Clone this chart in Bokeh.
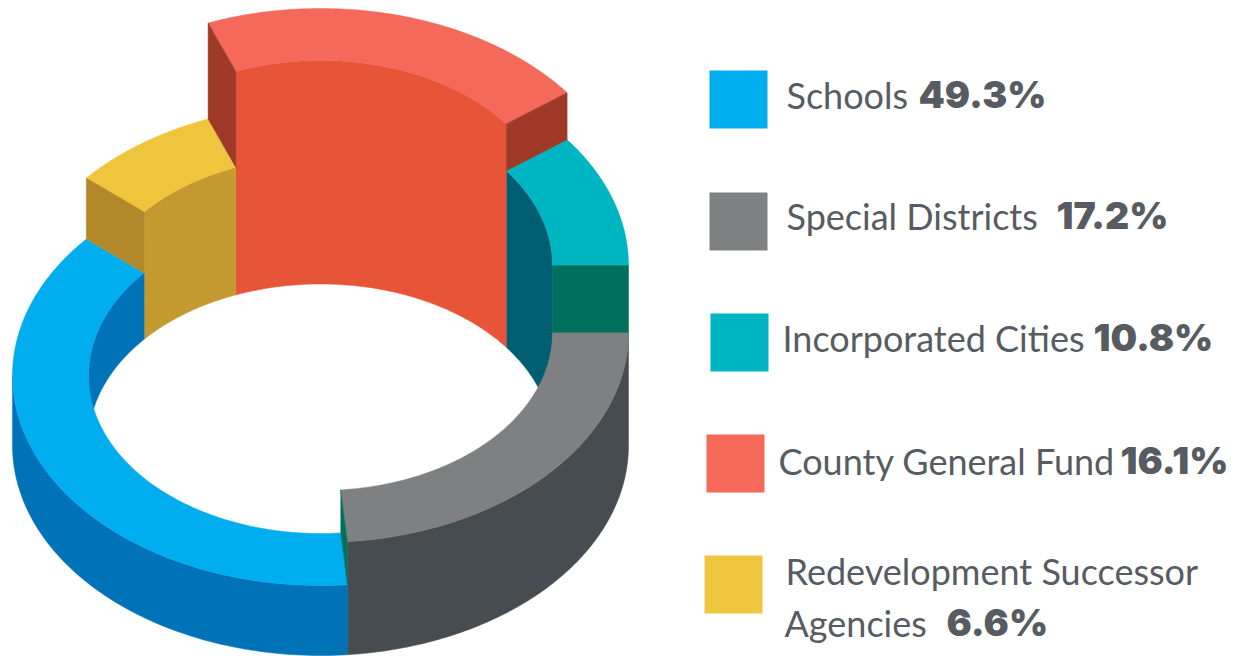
import numpy as np
from bokeh.plotting import figure
from bokeh.models import Range1d
from bokeh.core.properties import value
from bokeh.embed import file_html
from bokeh.resources import INLINE

# --- data ---
categories = ["Special Districts", "Incorporated Cities", "County General Fund",
              "Redevelopment Successor Agencies", "Schools"]
legend_order = ["Schools", "Special Districts", "Incorporated Cities",
                "County General Fund", "Redevelopment Successor Agencies"]
percent = {"Schools": 49.3, "Special Districts": 17.2, "Incorporated Cities": 10.8,
           "County General Fund": 16.1, "Redevelopment Successor Agencies": 6.6}
# the drawing's slices are not proportional to their percentages, so their drawn edges are read off
start_deg = [-85.0, 0.0, 36.8, 111.4, 139.5]
end_deg = [0.0, 36.8, 111.4, 139.5, 275.0]
height_px = [113, 180, 227, 131, 70]

# --- styles ---
top_col = ["#7f8082", "#00b5c2", "#f4695a", "#f0c53e", "#00aeef"]
outer_col = ["#474c50", "#005e73", "#a03a28", "#b3882a", "#0072b8"]
inner_col = ["#474c50", "#005e73", "#e85437", "#c49a30", "#0072b8"]
TXT = "#575c62"

# --- projection layout (image pixels) ---
CX, BASE_Y, RX, RY, IRX, IRY = 321.0, 445.0, 308.0, 210.0, 232.0, 158.0
INNER_BASE = 3.5


def arc(a0, a1, rx, ry, h, n=90):
    t = np.radians(np.linspace(a0, a1, n))
    return CX + rx * np.cos(t), BASE_Y - h - ry * np.sin(t)


def band(a0, a1, rx0, ry0, h0, rx1, ry1, h1):
    x0, y0 = arc(a0, a1, rx0, ry0, h0)
    x1, y1 = arc(a1, a0, rx1, ry1, h1)
    return list(np.r_[x0, x1]), list(np.r_[y0, y1])


p = figure(width=1237, height=656, output_backend="svg", toolbar_location=None,
           x_range=Range1d(1, 1238), y_range=Range1d(656, 0),
           min_border=0, outline_line_color=None)
p.axis.visible = False
p.grid.visible = False
p.background_fill_color = "#ffffff"


def fill(xs, ys, color):
    p.patch(xs, ys, fill_color=color, line_color=color, line_width=0.5)


# inner walls seen on the far side
for a0, a1, h, c in zip(start_deg, end_deg, height_px, inner_col):
    lo, hi = max(a0, 0), min(a1, 180)
    if hi > lo:
        fill(*band(lo, hi, IRX, IRY, h, IRX, IRY, INNER_BASE), c)

# outer walls seen on the near side
for a0, a1, h, c in zip(start_deg, end_deg, height_px, outer_col):
    a0n, a1n = (a0, a1) if a0 < 0 else (max(a0, 180), a1)
    if a0 < 0:
        a1n = min(a1, 0)
    if a1n > a0n:
        fill(*band(a0n, a1n, RX, RY, h, RX, RY, 0), c)

# top surfaces, lowest first
for i in np.argsort(height_px):
    fill(*band(start_deg[i], end_deg[i], RX, RY, height_px[i], IRX, IRY, height_px[i]), top_col[i])

# step faces between neighbouring slices of different height
edges = [(start_deg[0], 0, 4, "#00705c"), (start_deg[1], 1, 0, "#00705c"), (start_deg[2], 2, 1, "#a03a28"),
         (start_deg[3], 2, 3, "#a03a28"), (start_deg[4], 3, 4, "#b3882a")]
for ang, hi_i, lo_i, c in edges:
    t = np.radians(ang)
    ca, sa = np.cos(t), np.sin(t)
    hi, lo = height_px[hi_i], height_px[lo_i]
    fill([CX + IRX * ca, CX + RX * ca, CX + RX * ca, CX + IRX * ca],
         [BASE_Y - hi - IRY * sa, BASE_Y - hi - RY * sa, BASE_Y - lo - RY * sa, BASE_Y - lo - IRY * sa], c)

# legend
swatch_x = [710, 710, 711, 707, 705]
swatch_y = [70, 192, 313, 434, 555]
SW = 58
TEXT_DY = -14
label_x = [787, 787, 783, 779, 786]
base_y = [108, 229, 351, 474, 584]
pct_x = [919, 1057, 1094, 1121, 947]
pct_y = [108, 229, 351, 474, 636]
colmap = dict(zip(categories, top_col))
FONT = value("Lato")
BOLD = value("Inter Black, Inter")
for i, name in enumerate(legend_order):
    p.quad(left=swatch_x[i], right=swatch_x[i] + SW, top=swatch_y[i], bottom=swatch_y[i] + SW,
           fill_color=colmap[name], line_color=None)
    lines = [name] if not name.startswith("Redevelopment") else ["Redevelopment Successor"]
    p.text([label_x[i]], [base_y[i] + TEXT_DY], text=lines, text_font=FONT, text_font_size="36px",
           text_color=TXT, text_baseline="alphabetic")
    p.text([pct_x[i]], [pct_y[i] + TEXT_DY], text=[f"{percent[name]}%"], text_font=BOLD, text_font_size="37.5px",
           text_font_style="bold", text_color=TXT, text_baseline="alphabetic")
p.text([785], [636 + TEXT_DY], text=["Agencies"], text_font=FONT, text_font_size="36px",
       text_color=TXT, text_baseline="alphabetic")

open("out.html", "w").write(file_html(p, INLINE))
